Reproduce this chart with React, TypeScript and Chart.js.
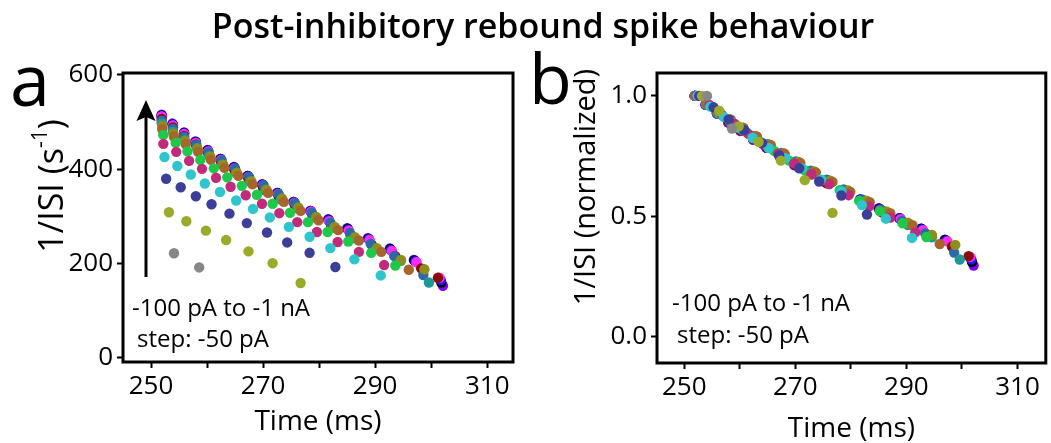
import React, { useEffect, useRef } from "react";
import { Chart, registerables } from "chart.js";

Chart.register(...registerables);

const FONT = "'Open Sans', 'Noto Sans', sans-serif";

// Stimulus series (hyperpolarising steps), drawn lowest-first on top
const seriesNames = [
  "-250 pA", "-300 pA", "-350 pA", "-400 pA", "-450 pA", "-500 pA", "-550 pA", "-600 pA",
  "-650 pA", "-700 pA", "-750 pA", "-800 pA", "-850 pA", "-900 pA", "-1 nA",
];
const seriesColors = [
  "#878787", "#9aab2b", "#3c3f98", "#2ec5cd", "#c22b7c", "#1ec94a", "#a6652b", "#8e8e1e",
  "#1f9797", "#2d69a8", "#8b0b0b", "#ff2cff", "#1c1cff", "#000000", "#8000ff",
];

// Spike times (ms) and instantaneous rate 1/ISI (s^-1)
const grayT = [254.1, 258.6];
const grayR = [222, 192];
const oliveT = [253.2, 256.3, 259.8, 263.4, 267.4, 271.7, 276.7];
const oliveR = [309, 290, 270, 250, 226, 201, 159];
const navyT = [252.7, 255.3, 258.0, 260.8, 264.0, 267.1, 270.7, 274.3, 278.3, 282.9];
const navyR = [380, 362, 343, 326, 306, 286, 266, 245, 223, 193];
const cyanT = [252.4, 254.7, 257.1, 259.6, 262.3, 265.2, 268.2, 271.2, 274.6, 278.3, 282.0, 286.3, 291.0];
const cyanR = [426, 407, 389, 370, 352, 334, 316, 298, 278, 257, 233, 209, 175];
const magentaT = [252.2, 254.5, 256.8, 259.1, 261.6, 264.2, 266.9, 269.8, 272.9, 276.1, 279.6, 283.3, 287.1, 291.6];
const magentaR = [454, 437, 418, 401, 382, 363, 345, 327, 307, 288, 267, 246, 225, 197];
const greenT = [252.2, 254.4, 256.5, 258.8, 261.2, 263.6, 266.2, 268.9, 271.7, 274.8, 278.0, 281.5, 285.2, 289.3, 293.6];
const greenR = [473, 456, 438, 420, 402, 383, 365, 346, 327, 308, 288, 267, 247, 223, 196];
const brownT = [252.0, 254.1, 256.2, 258.4, 260.7, 263.1, 265.6, 268.1, 270.9, 273.7, 276.7, 279.9, 283.4, 287.1, 291.1, 296.0];
const brownR = [485, 469, 453, 437, 420, 403, 386, 368, 350, 331, 312, 292, 271, 249, 225, 187];
const khakiT = [252.0, 254.0, 256.1, 258.3, 260.6, 262.9, 265.3, 267.9, 270.6, 273.4, 276.3, 279.5, 282.8, 286.4, 290.3, 294.6, 298.8];
const khakiR = [492, 476, 460, 444, 427, 410, 393, 375, 357, 338, 319, 299, 278, 256, 233, 208, 188];
const tealT = [251.9, 253.9, 256.0, 258.2, 260.4, 262.7, 265.2, 267.7, 270.4, 273.2, 276.2, 279.4, 282.7, 286.3, 290.3, 294.6, 299.6];
const tealR = [498, 480, 462, 445, 428, 410, 392, 374, 355, 336, 317, 297, 276, 254, 231, 206, 160];
const steelT = [251.9, 253.9, 255.9, 258.1, 260.3, 262.6, 265.0, 267.5, 270.1, 272.8, 275.7, 278.7, 282.0, 285.5, 289.2, 293.4, 298.6];
const steelR = [503, 486, 469, 452, 436, 419, 402, 384, 366, 347, 328, 308, 287, 265, 242, 216, 176];
const darkredT = [251.9, 253.9, 255.9, 258.0, 260.2, 262.5, 264.9, 267.4, 270.0, 272.8, 275.7, 278.8, 282.1, 285.6, 289.4, 293.6, 298.2, 301.2];
const darkredR = [507, 489, 471, 452, 434, 416, 398, 380, 361, 342, 323, 303, 283, 262, 240, 216, 190, 170];
const pinkT = [251.9, 253.9, 255.9, 258.0, 260.2, 262.5, 264.9, 267.4, 270.0, 272.7, 275.6, 278.6, 281.8, 285.3, 289.0, 293.0, 297.4, 301.5];
const pinkR = [512, 493, 475, 456, 438, 420, 402, 384, 366, 348, 329, 310, 290, 270, 250, 227, 203, 170];
const blueT = [251.9, 253.9, 255.9, 258.0, 260.2, 262.5, 264.8, 267.3, 269.9, 272.6, 275.5, 278.5, 281.7, 285.2, 288.9, 292.8, 297.2, 301.7];
const blueR = [513, 494, 476, 457, 439, 421, 403, 385, 367, 349, 330, 311, 292, 272, 252, 229, 205, 165];
const blackT = [251.9, 253.9, 255.9, 258.0, 260.1, 262.4, 264.8, 267.3, 269.9, 272.6, 275.5, 278.5, 281.7, 285.1, 288.8, 292.7, 297.0, 301.8];
const blackR = [514, 495, 477, 458, 440, 422, 404, 386, 368, 350, 331, 312, 293, 274, 253, 231, 207, 160];
const purpleT = [251.9, 253.8, 255.9, 257.9, 260.1, 262.4, 264.8, 267.2, 269.8, 272.5, 275.4, 278.4, 281.6, 285.0, 288.7, 292.6, 296.9, 302.1];
const purpleR = [516, 497, 478, 459, 441, 422, 405, 386, 368, 350, 331, 312, 294, 275, 254, 232, 208, 153];

const seriesTimes = [grayT, oliveT, navyT, cyanT, magentaT, greenT, brownT, khakiT, tealT, steelT, darkredT, pinkT, blueT, blackT, purpleT];
const seriesRates = [grayR, oliveR, navyR, cyanR, magentaR, greenR, brownR, khakiR, tealR, steelR, darkredR, pinkR, blueR, blackR, purpleR];

// Axis ticks
const xTickValues = [250, 260, 270, 280, 290, 300, 310];
const xTickLabels = [250, 270, 290, 310];
const yTicksA = [0, 200, 400, 600];
const yTicksB = [0, 0.5, 1.0];

const framePlugin = {
  id: "frame",
  afterDatasetsDraw(chart: any) {
    const { ctx, chartArea } = chart;
    const { left, top, right, bottom } = chartArea;
    ctx.save();
    ctx.strokeStyle = "#000";
    ctx.lineWidth = 3;
    ctx.strokeRect(left, top, right - left, bottom - top);
    ctx.restore();
  },
};

function makeConfig(p: any) {
  const datasets = seriesNames.map((name, i) => ({
    label: name,
    data: seriesTimes[i].map((t, j) => ({
      x: t,
      y: p.normalize ? seriesRates[i][j] / seriesRates[i][0] : seriesRates[i][j],
    })),
    backgroundColor: seriesColors[i],
    borderColor: seriesColors[i],
    borderWidth: 0,
    pointRadius: 5.2,
    pointHoverRadius: 5.2,
    showLine: false,
  }));
  return {
    type: "scatter",
    data: { datasets },
    plugins: [framePlugin],
    options: {
      responsive: false,
      animation: false,
      events: [],
      layout: { padding: { left: 0, top: p.top, right: p.right, bottom: 0 } },
      plugins: { legend: { display: false }, tooltip: { enabled: false }, title: { display: false } },
      scales: {
        x: {
          type: "linear",
          min: p.xMin,
          max: p.xMax,
          afterBuildTicks: (s: any) => {
            s.ticks = xTickValues.map((v) => ({ value: v }));
          },
          afterFit: (s: any) => {
            s.height = p.xHeight;
          },
          ticks: {
            autoSkip: false,
            maxRotation: 0,
            padding: 3,
            color: "#000",
            font: { family: FONT, size: 26, weight: "500" },
            callback: (v: any) => (xTickLabels.includes(Number(v)) ? String(v) : ""),
          },
          grid: { display: true, drawOnChartArea: false, drawTicks: true, tickLength: 6, tickWidth: 2, tickColor: "#000" },
          border: { display: false },
          title: {
            display: true,
            text: "Time (ms)",
            color: "#000",
            font: { family: FONT, size: 28, weight: "500", lineHeight: 1.0 },
            padding: { top: 0, bottom: p.xTitlePad },
          },
        },
        y: {
          type: "linear",
          min: p.yMin,
          max: p.yMax,
          afterBuildTicks: (s: any) => {
            s.ticks = p.yTicks.map((v: number) => ({ value: v }));
          },
          afterFit: (s: any) => {
            s.width = p.yWidth;
          },
          ticks: {
            padding: 4,
            color: "#000",
            font: { family: FONT, size: 26, weight: "500" },
            callback: (v: any) => (p.normalize ? Number(v).toFixed(1) : String(v)),
          },
          grid: { display: true, drawOnChartArea: false, drawTicks: true, tickLength: 6, tickWidth: 2, tickColor: "#000" },
          border: { display: false },
          title: { display: false },
        },
      },
    },
  };
}

export default function App() {
  const refA = useRef<HTMLCanvasElement>(null);
  const refB = useRef<HTMLCanvasElement>(null);

  useEffect(() => {
    const a = new Chart(
      refA.current as HTMLCanvasElement,
      makeConfig({
        normalize: false, top: 73, right: 17, xHeight: 81, yWidth: 123,
        xMin: 245, xMax: 314.6, yMin: -8.5, yMax: 604.2, yTicks: yTicksA, xTitlePad: 7,
      }) as any
    );
    const b = new Chart(
      refB.current as HTMLCanvasElement,
      makeConfig({
        normalize: true, top: 73, right: 4, xHeight: 80, yWidth: 127,
        xMin: 245.1, xMax: 315.1, yMin: -0.108, yMax: 1.095, yTicks: yTicksB, xTitlePad: 0,
      }) as any
    );
    return () => {
      a.destroy();
      b.destroy();
    };
  }, []);

  return (
    <div style={{ position: "absolute", left: 0, top: 0, width: 1051, height: 443, background: "#fff", overflow: "hidden" }}>
      <canvas ref={refA} width={530} height={443} style={{ position: "absolute", left: 0, top: 0, width: 530, height: 443 }} />
      <canvas ref={refB} width={521} height={443} style={{ position: "absolute", left: 530, top: 0, width: 521, height: 443 }} />
      <svg width={1051} height={443} style={{ position: "absolute", left: 0, top: 0, pointerEvents: "none" }} fontFamily={FONT}>
        <text x={543} y={38} textAnchor="middle" fontSize={34} fontWeight={600} fill="#000">Post-inhibitory rebound spike behaviour</text>
        <text x={10} y={106} fontSize={72} fontWeight={500} fill="#000">a</text>
        <text x={529} y={104} fontSize={70} fontWeight={500} fill="#000">b</text>
        <text transform="translate(50,186) rotate(-90)" textAnchor="middle" dominantBaseline="central" fontSize={34} fontWeight={500} fill="#000">
          1/ISI (s<tspan fontSize={21} dy={-11}>-1</tspan><tspan dy={11}>)</tspan>
        </text>
        <text transform="translate(583,187) rotate(-90)" textAnchor="middle" dominantBaseline="central" fontSize={29} fontWeight={500} fill="#000">
          1/ISI (normalized)
        </text>
        <line x1={146} y1={277} x2={146} y2={115} stroke="#000" strokeWidth={3} />
        <polygon points="146,100 136.5,121 146,117 155.5,121" fill="#000" />
        <text x={132} y={316} fontSize={24} fontWeight={500} fill="#000">-100 pA to -1 nA</text>
        <text x={137} y={347} fontSize={24} fontWeight={500} fill="#000">step: -50 pA</text>
        <text x={672} y={311} fontSize={24} fontWeight={500} fill="#000">-100 pA to -1 nA</text>
        <text x={677} y={343} fontSize={24} fontWeight={500} fill="#000">step: -50 pA</text>
      </svg>
    </div>
  );
}
